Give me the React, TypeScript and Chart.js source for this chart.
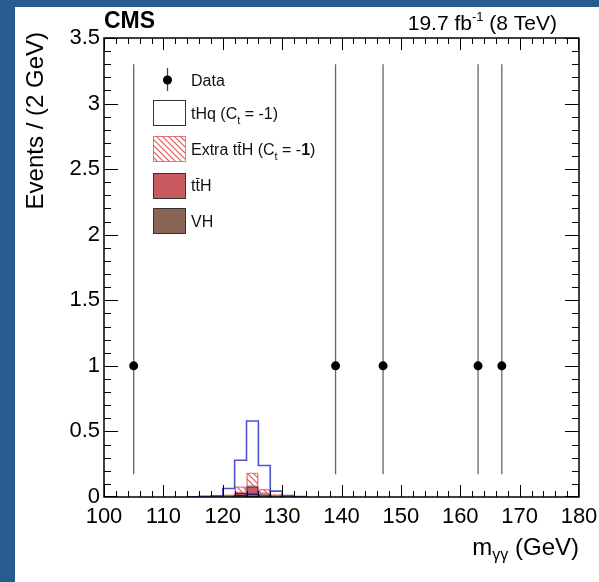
import React, { useEffect, useRef } from "react";
import { Chart, registerables } from "chart.js";

Chart.register(...registerables);

// ---- Histogram bins (2 GeV wide) ----
const binEdges = [114, 116, 118, 120, 122, 124, 126, 128, 130, 132, 134];
const binCenters = [115, 117, 119, 121, 123, 125, 127, 129, 131, 133];

// ---- Stacked simulated contributions (events / 2 GeV) ----
const vhValues = [0, 0, 0.001, 0.004, 0.01, 0.02, 0.008, 0.004, 0.001, 0];
const tthValues = [0, 0.001, 0.002, 0.008, 0.02, 0.06, 0.017, 0.008, 0.002, 0];
const extraTthValues = [0, 0.001, 0.002, 0.006, 0.05, 0.105, 0.035, 0.01, 0.003, 0];
const thqValues = [0.002, 0.004, 0.005, 0.047, 0.2, 0.395, 0.18, 0.023, 0.006, 0.003];

// ---- Observed data ----
const dataMass = [105, 139, 147, 163, 167];
const dataEvents = [1, 1, 1, 1, 1];
const dataErrLow = [0.827, 0.827, 0.827, 0.827, 0.827];
const dataErrHigh = [2.3, 2.3, 2.3, 2.3, 2.3];

// ---- Axis ticks ----
const xTickValues = [100, 110, 120, 130, 140, 150, 160, 170, 180];
const xTickLabels = ["100", "110", "120", "130", "140", "150", "160", "170", "180"];
const yTickValues = [0, 0.5, 1, 1.5, 2, 2.5, 3, 3.5];
const yTickLabels = ["0", "0.5", "1", "1.5", "2", "2.5", "3", "3.5"];

const FONT = "'Liberation Sans', Arial, Helvetica, sans-serif";

type Part = { t: string; size: number; dy?: number; bold?: boolean; overline?: boolean };

function measureRich(ctx: CanvasRenderingContext2D, parts: Part[]) {
  let w = 0;
  for (const p of parts) {
    ctx.font = `${p.bold ? "bold " : ""}${p.size}px ${FONT}`;
    w += ctx.measureText(p.t).width;
  }
  return w;
}

function drawRich(ctx: CanvasRenderingContext2D, parts: Part[], x: number, y: number) {
  let cx = x;
  ctx.textBaseline = "alphabetic";
  ctx.textAlign = "left";
  for (const p of parts) {
    ctx.font = `${p.bold ? "bold " : ""}${p.size}px ${FONT}`;
    const w = ctx.measureText(p.t).width;
    ctx.fillText(p.t, cx, y + (p.dy || 0));
    if (p.overline) {
      const oy = Math.round(y + (p.dy || 0) - p.size * 0.8);
      ctx.fillRect(cx + 0.5, oy, w - 1, 1);
    }
    cx += w;
  }
  return cx - x;
}

function makeHatch(): CanvasPattern | string {
  const c = document.createElement("canvas");
  c.width = 6;
  c.height = 6;
  const g = c.getContext("2d");
  if (!g) return "rgba(220,80,80,0.4)";
  g.strokeStyle = "rgba(215,70,70,0.9)";
  g.lineWidth = 1.1;
  g.beginPath();
  g.moveTo(0, 0);
  g.lineTo(6, 6);
  g.moveTo(-1, 5);
  g.lineTo(1, 7);
  g.moveTo(5, -1);
  g.lineTo(7, 1);
  g.stroke();
  const p = g.createPattern(c, "repeat");
  return p || "rgba(220,80,80,0.4)";
}

// ROOT-style inward ticks on all four sides of the frame.
function drawFrameTicks(chart: any) {
  const ctx: CanvasRenderingContext2D = chart.ctx;
  const a = chart.chartArea;
  const xs = chart.scales.x;
  const ys = chart.scales.y;
  const xStep = 2;
  const yStep = 0.1;
  const x0 = xTickValues[0];
  const x1 = xTickValues[xTickValues.length - 1];
  const y0 = yTickValues[0];
  const y1 = yTickValues[yTickValues.length - 1];
  const nX = Math.round((x1 - x0) / xStep);
  const nY = Math.round((y1 - y0) / yStep);
  ctx.save();
  ctx.fillStyle = "#000";
  for (let i = 0; i <= nX; i++) {
    const v = x0 + i * xStep;
    const major = xTickValues.some((t) => Math.abs(t - v) < 1e-6);
    const len = major ? 12 : 6;
    let px = Math.round(xs.getPixelForValue(v));
    if (px >= Math.round(a.right)) px = Math.round(a.right) - 1;
    ctx.fillRect(px, Math.round(a.bottom) - len, 1, len);
    ctx.fillRect(px, Math.round(a.top), 1, len);
  }
  for (let i = 0; i <= nY; i++) {
    const v = y0 + i * yStep;
    const major = yTickValues.some((t) => Math.abs(t - v) < 1e-6);
    const len = major ? 14 : 7;
    let py = Math.round(ys.getPixelForValue(v));
    if (py >= Math.round(a.bottom)) py = Math.round(a.bottom) - 1;
    ctx.fillRect(Math.round(a.left), py, len, 1);
    ctx.fillRect(Math.round(a.right) - len, py, len, 1);
  }
  ctx.restore();
}

export default function App() {
  const ref = useRef<HTMLCanvasElement | null>(null);

  useEffect(() => {
    if (!ref.current) return;
    const hatch = makeHatch();

    const cum1 = vhValues.map((v) => v);
    const cum2 = cum1.map((v, i) => v + tthValues[i]);
    const cum3 = cum2.map((v, i) => v + extraTthValues[i]);
    const cum4 = cum3.map((v, i) => v + thqValues[i]);

    const lastEdge = binEdges[binEdges.length - 1];
    const outline: { x: number; y: number }[] = [{ x: binEdges[0], y: 0 }];
    cum4.forEach((t, i) => outline.push({ x: binEdges[i], y: t }));
    outline.push({ x: lastEdge, y: cum4[cum4.length - 1] });
    outline.push({ x: lastEdge, y: 0 });

    const errorBars = {
      id: "errorBars",
      beforeDatasetsDraw(chart: any) {
        const { ctx, scales } = chart;
        const { x, y } = scales;
        ctx.save();
        ctx.strokeStyle = "#666";
        ctx.lineWidth = 1.3;
        dataMass.forEach((m, i) => {
          const px = x.getPixelForValue(m);
          ctx.beginPath();
          ctx.moveTo(px, y.getPixelForValue(dataEvents[i] - dataErrLow[i]));
          ctx.lineTo(px, y.getPixelForValue(dataEvents[i] + dataErrHigh[i]));
          ctx.stroke();
        });
        ctx.restore();
      },
    };

    const decorations = {
      id: "decorations",
      afterDraw(chart: any) {
        const { ctx, chartArea: a } = chart;
        drawFrameTicks(chart);
        ctx.save();
        ctx.strokeStyle = "#000";
        ctx.lineWidth = 1.5;
        ctx.strokeRect(a.left, a.top, a.right - a.left, a.bottom - a.top);

        ctx.fillStyle = "#000";
        ctx.font = `bold 23px ${FONT}`;
        ctx.textAlign = "left";
        ctx.textBaseline = "alphabetic";
        ctx.fillText("CMS", a.left, 21);

        const lumi: Part[] = [
          { t: "19.7 fb", size: 21 },
          { t: "-1", size: 13, dy: -9 },
          { t: " (8 TeV)", size: 21 },
        ];
        const lw = measureRich(ctx, lumi);
        drawRich(ctx, lumi, a.right - 22 - lw, 23);

        const xt: Part[] = [
          { t: "m", size: 24 },
          { t: "γγ", size: 16, dy: 5 },
          { t: " (GeV)", size: 24 },
        ];
        const xw = measureRich(ctx, xt);
        drawRich(ctx, xt, a.right - xw, 548);

        ctx.save();
        ctx.translate(21, a.top - 6);
        ctx.rotate(-Math.PI / 2);
        ctx.font = `24px ${FONT}`;
        ctx.textAlign = "right";
        ctx.textBaseline = "middle";
        ctx.fillText("Events / (2 GeV)", 0, 0);
        ctx.restore();

        // legend
        const boxX = 138;
        const boxW = 32;
        const boxH = 25;
        const textX = 176;
        ctx.strokeStyle = "#444";
        ctx.lineWidth = 1.3;
        ctx.beginPath();
        ctx.moveTo(152.5, 61);
        ctx.lineTo(152.5, 84);
        ctx.stroke();
        ctx.fillStyle = "#000";
        ctx.beginPath();
        ctx.arc(152.5, 73, 4.5, 0, Math.PI * 2);
        ctx.fill();
        ctx.fillStyle = "#111";
        drawRich(ctx, [{ t: "Data", size: 16 }], textX, 79);

        const rows = [
          {
            cy: 105.5,
            fill: "#ffffff",
            border: "#333",
            parts: [
              { t: "tHq (C", size: 16 },
              { t: "t", size: 11, dy: 5 },
              { t: " = -1)", size: 16 },
            ] as Part[],
          },
          {
            cy: 141.5,
            fill: hatch,
            border: "rgba(215,90,90,0.8)",
            parts: [
              { t: "Extra t", size: 16 },
              { t: "t", size: 16, overline: true },
              { t: "H (C", size: 16 },
              { t: "t", size: 11, dy: 5 },
              { t: " = -", size: 16 },
              { t: "1", size: 16, bold: true },
              { t: ")", size: 16 },
            ] as Part[],
          },
          {
            cy: 178,
            fill: "#c95a5f",
            border: "#333",
            parts: [
              { t: "t", size: 16 },
              { t: "t", size: 16, overline: true },
              { t: "H", size: 16 },
            ] as Part[],
          },
          { cy: 213.5, fill: "#8a6553", border: "#333", parts: [{ t: "VH", size: 16 }] as Part[] },
        ];
        for (const r of rows) {
          const bt = Math.round(r.cy - boxH / 2) + 0.5;
          ctx.fillStyle = r.fill as any;
          ctx.fillRect(boxX, bt, boxW, boxH);
          ctx.strokeStyle = r.border;
          ctx.lineWidth = 1;
          ctx.strokeRect(boxX + 0.5, bt, boxW, boxH);
          ctx.fillStyle = "#111";
          drawRich(ctx, r.parts, textX, r.cy + 6);
        }
        ctx.restore();
      },
    };

    const barCommon = {
      type: "bar" as const,
      grouped: false,
      barPercentage: 1,
      categoryPercentage: 1,
      borderSkipped: false,
    };

    const chart = new Chart(ref.current, {
      type: "bar",
      data: {
        datasets: [
          {
            type: "line",
            label: "Data",
            data: dataMass.map((m, i) => ({ x: m, y: dataEvents[i] })),
            showLine: false,
            pointRadius: 4.5,
            pointBackgroundColor: "#000",
            pointBorderWidth: 0,
            order: 0,
          } as any,
          {
            type: "line",
            label: "tHq outline",
            data: outline,
            stepped: "before",
            borderColor: "rgba(50,50,205,0.85)",
            borderWidth: 1.6,
            pointRadius: 0,
            fill: false,
            order: 1,
          } as any,
          {
            ...barCommon,
            label: "Extra ttH",
            data: binCenters.map((c, i) => ({ x: c, y: [cum2[i], cum3[i]] })),
            backgroundColor: hatch,
            borderColor: "rgba(215,90,90,0.7)",
            borderWidth: 1,
            order: 2,
          } as any,
          {
            ...barCommon,
            label: "ttH",
            data: binCenters.map((c, i) => ({ x: c, y: [cum1[i], cum2[i]] })),
            backgroundColor: "#c95a5f",
            borderColor: "#1d1d70",
            borderWidth: 1.2,
            order: 3,
          } as any,
          {
            ...barCommon,
            label: "VH",
            data: binCenters.map((c, i) => ({ x: c, y: [0, vhValues[i]] })),
            backgroundColor: "#8a6553",
            borderColor: "#1d1d70",
            borderWidth: 1,
            order: 4,
          } as any,
        ],
      },
      options: {
        animation: false,
        responsive: false,
        maintainAspectRatio: false,
        layout: { padding: { left: 0, top: 31, right: 20, bottom: 0 } },
        plugins: { legend: { display: false }, tooltip: { enabled: false } },
        scales: {
          x: {
            type: "linear",
            offset: false,
            min: 100,
            max: 180,
            grid: { display: false, drawTicks: false, offset: false },
            border: { display: false },
            afterBuildTicks: (s: any) => {
              s.ticks = xTickValues.map((v) => ({ value: v }));
            },
            ticks: {
              padding: 7,
              color: "#000",
              font: { family: FONT, size: 22 },
              maxRotation: 0,
              autoSkip: false,
              callback: (_v: any, i: number) => xTickLabels[i],
            },
            afterFit: (s: any) => {
              s.height = 85;
              s.paddingLeft = 0;
              s.paddingRight = 0;
            },
          },
          y: {
            type: "linear",
            min: 0,
            max: 3.5,
            grid: { display: false, drawTicks: false },
            border: { display: false },
            afterBuildTicks: (s: any) => {
              s.ticks = yTickValues.map((v) => ({ value: v }));
            },
            ticks: {
              padding: 4,
              color: "#000",
              font: { family: FONT, size: 22 },
              autoSkip: false,
              callback: (_v: any, i: number) => yTickLabels[i],
            },
            afterFit: (s: any) => {
              s.width = 89;
              s.paddingTop = 0;
              s.paddingBottom = 0;
            },
          },
        },
      } as any,
      plugins: [errorBars, decorations],
    });
    return () => chart.destroy();
  }, []);

  return (
    <div
      style={{
        position: "fixed",
        left: 0,
        top: 0,
        width: 599,
        height: 582,
        background: "#275c8f",
        overflow: "hidden",
      }}
    >
      <canvas
        ref={ref}
        width={584}
        height={575}
        style={{ position: "absolute", left: 15, top: 7, width: 584, height: 575, background: "#fff" }}
      />
    </div>
  );
}
